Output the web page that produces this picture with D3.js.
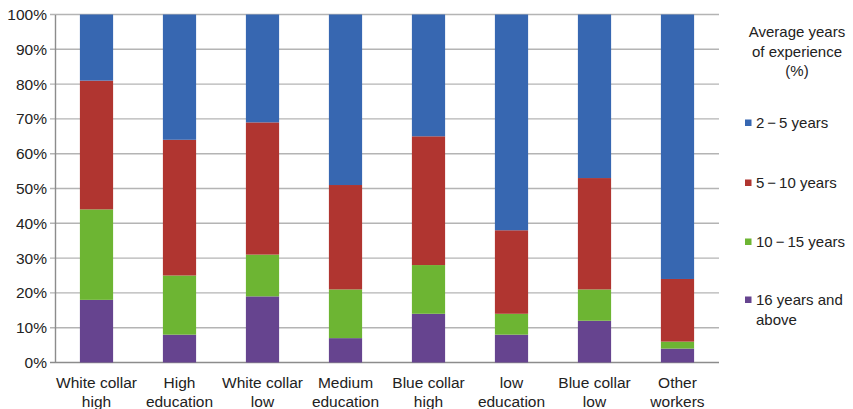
<!DOCTYPE html>
<html>
<head>
<meta charset="utf-8">
<script src="https://cdn.jsdelivr.net/npm/d3@7"></script>
<style>
  html, body { margin: 0; padding: 0; background: #fff; }
  svg { display: block; font-family: "Liberation Sans", Arial, Helvetica, sans-serif; }
</style>
</head>
<body>
<svg id="chart" width="853" height="409"></svg>
<script>
// Occupational groups (two-line labels)
const categories = [
  ["White collar", "high"],
  ["High", "education"],
  ["White collar", "low"],
  ["Medium", "education"],
  ["Blue collar", "high"],
  ["low", "education"],
  ["Blue collar", "low"],
  ["Other", "workers"]
];

// Share of workers by average years of experience (%)
const years16Plus = [18, 8, 19, 7, 14, 8, 12, 4];
const years10to15 = [26, 17, 12, 14, 14, 6, 9, 2];
const years5to10  = [37, 39, 38, 30, 37, 24, 32, 18];
const years2to5   = [19, 36, 31, 49, 35, 62, 47, 76];

const dash = "\u2009\u2212\u2009";
const seriesNames = ["16 years and above", "10" + dash + "15 years", "5" + dash + "10 years", "2" + dash + "5 years"];
const seriesColors = ["#66448f", "#6db533", "#b03530", "#3767b1"];
const yTicks = [0, 10, 20, 30, 40, 50, 60, 70, 80, 90, 100];

const svg = d3.select("#chart");
const margin = { left: 55, right: 134, top: 14.5, bottom: 46.5 };
const width = 853, height = 409;

const keys = categories.map(c => c.join(" "));
const rows = keys.map((k, i) => ({
  key: k,
  s0: years16Plus[i], s1: years10to15[i], s2: years5to10[i], s3: years2to5[i]
}));

const x = d3.scaleBand()
  .domain(keys)
  .range([margin.left, width - margin.right])
  .paddingInner(0.6)
  .paddingOuter(0.3);

const y = d3.scaleLinear()
  .domain([0, 100])
  .range([height - margin.bottom, margin.top]);

// Gridlines
svg.append("g")
  .selectAll("line")
  .data(yTicks)
  .join("line")
  .attr("x1", margin.left - 5)
  .attr("x2", width - margin.right)
  .attr("y1", d => y(d))
  .attr("y2", d => y(d))
  .attr("stroke", d => d === 0 ? "#8c8c8c" : "#b4b4b4")
  .attr("stroke-width", 1.4);

// Stacked bars
const stack = d3.stack().keys(["s0", "s1", "s2", "s3"]);
const layers = stack(rows);

svg.append("g")
  .selectAll("g")
  .data(layers)
  .join("g")
  .attr("fill", (d, i) => seriesColors[i])
  .selectAll("rect")
  .data(d => d)
  .join("rect")
  .attr("x", d => x(d.data.key))
  .attr("width", x.bandwidth())
  .attr("y", d => y(d[1]))
  .attr("height", d => y(d[0]) - y(d[1]));

// Y axis
const yAxis = d3.axisLeft(y)
  .tickValues(yTicks)
  .tickFormat(d => d + "%")
  .tickSize(0)
  .tickPadding(8);

const gy = svg.append("g")
  .attr("transform", `translate(${margin.left},0)`)
  .call(yAxis);
gy.select(".domain").attr("stroke", "#8c8c8c").attr("stroke-width", 1.4);
gy.selectAll("text")
  .attr("fill", "#222")
  .style("font-size", "15.5px");

// X axis (two-line labels)
const xAxis = d3.axisBottom(x).tickSize(0).tickFormat(() => "");
const gx = svg.append("g")
  .attr("transform", `translate(0,${y(0)})`)
  .call(xAxis);
gx.select(".domain").remove();

svg.append("g")
  .selectAll("text")
  .data(categories)
  .join("text")
  .attr("x", (d, i) => x(keys[i]) + x.bandwidth() / 2)
  .attr("y", 388)
  .attr("text-anchor", "middle")
  .attr("fill", "#222")
  .style("font-size", "15.5px")
  .each(function(d) {
    const t = d3.select(this);
    t.append("tspan").attr("x", t.attr("x")).attr("dy", 0).text(d[0]);
    t.append("tspan").attr("x", t.attr("x")).attr("dy", 18.5).text(d[1]);
  });

// Legend
const legend = svg.append("g");
legend.append("text")
  .attr("x", 797)
  .attr("y", 37)
  .attr("text-anchor", "middle")
  .attr("fill", "#222")
  .style("font-size", "15px")
  .selectAll("tspan")
  .data(["Average years", "of experience", "(%)"])
  .join("tspan")
  .attr("x", 797)
  .attr("dy", (d, i) => i === 0 ? 0 : 19.5)
  .text(d => d);

const legendItems = [
  { color: seriesColors[3], y: 128, lines: [seriesNames[3]] },
  { color: seriesColors[2], y: 188, lines: [seriesNames[2]] },
  { color: seriesColors[1], y: 247, lines: [seriesNames[1]] },
  { color: seriesColors[0], y: 305, lines: ["16 years and", "above"] }
];

const li = legend.selectAll("g.item")
  .data(legendItems)
  .join("g")
  .attr("class", "item");

li.append("rect")
  .attr("x", 745)
  .attr("y", d => d.y - 8.5)
  .attr("width", 6.5)
  .attr("height", 6.5)
  .attr("fill", d => d.color);

li.append("text")
  .attr("x", 756)
  .attr("y", d => d.y)
  .attr("fill", "#222")
  .style("font-size", "15px")
  .each(function(d) {
    const t = d3.select(this);
    d.lines.forEach((line, i) => {
      t.append("tspan").attr("x", 756).attr("dy", i === 0 ? 0 : 20).text(line);
    });
  });
</script>
</body>
</html>
